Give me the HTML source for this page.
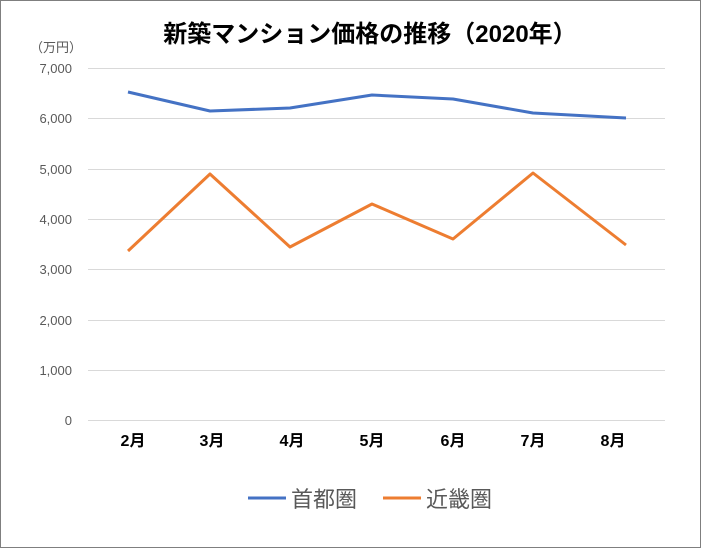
<!DOCTYPE html>
<html><head><meta charset="utf-8"><style>
body{margin:0;background:#fff;}
svg{display:block;font-family:"Liberation Sans","Noto Sans CJK JP",sans-serif;}
</style></head><body>
<svg width="701" height="548" viewBox="0 0 701 548">
<rect x="0.5" y="0.5" width="700" height="547" fill="#fff" stroke="#7f7f7f"/>
<text x="370" y="42" text-anchor="middle" font-size="24" font-weight="bold" fill="#000">新築マンション価格の推移（2020年）</text>
<text x="30" y="52" font-size="13" fill="#595959">（万円）</text>
<g stroke="#d9d9d9" stroke-width="1">
<line x1="88" x2="665" y1="68.5" y2="68.5"/>
<line x1="88" x2="665" y1="118.5" y2="118.5"/>
<line x1="88" x2="665" y1="169.5" y2="169.5"/>
<line x1="88" x2="665" y1="219.5" y2="219.5"/>
<line x1="88" x2="665" y1="269.5" y2="269.5"/>
<line x1="88" x2="665" y1="320.5" y2="320.5"/>
<line x1="88" x2="665" y1="370.5" y2="370.5"/>
<line x1="88" x2="665" y1="420.5" y2="420.5"/>
</g>
<g font-size="13" fill="#595959" text-anchor="end">
<text x="72" y="73">7,000</text>
<text x="72" y="123">6,000</text>
<text x="72" y="174">5,000</text>
<text x="72" y="224">4,000</text>
<text x="72" y="274">3,000</text>
<text x="72" y="325">2,000</text>
<text x="72" y="375">1,000</text>
<text x="72" y="425">0</text>
</g>
<g font-size="16" font-weight="bold" fill="#000" text-anchor="middle">
<text x="133" y="446">2月</text><text x="212" y="446">3月</text><text x="292" y="446">4月</text>
<text x="372" y="446">5月</text><text x="453" y="446">6月</text><text x="533" y="446">7月</text>
<text x="613" y="446">8月</text>
</g>
<polyline fill="none" stroke="#4472c4" stroke-width="3" stroke-linejoin="round" points="128,92 210,111 290,108 372,95 453,99 533,113 626,118"/>
<polyline fill="none" stroke="#ed7d31" stroke-width="3" stroke-linejoin="round" points="128,251 210,174 290,247 372,204 453,239 533,173 626,245"/>
<line x1="248" x2="286" y1="498" y2="498" stroke="#4472c4" stroke-width="3"/>
<text x="291" y="507" font-size="22" fill="#595959">首都圏</text>
<line x1="383" x2="421" y1="498" y2="498" stroke="#ed7d31" stroke-width="3"/>
<text x="426" y="507" font-size="22" fill="#595959">近畿圏</text>
</svg>
</body></html>
